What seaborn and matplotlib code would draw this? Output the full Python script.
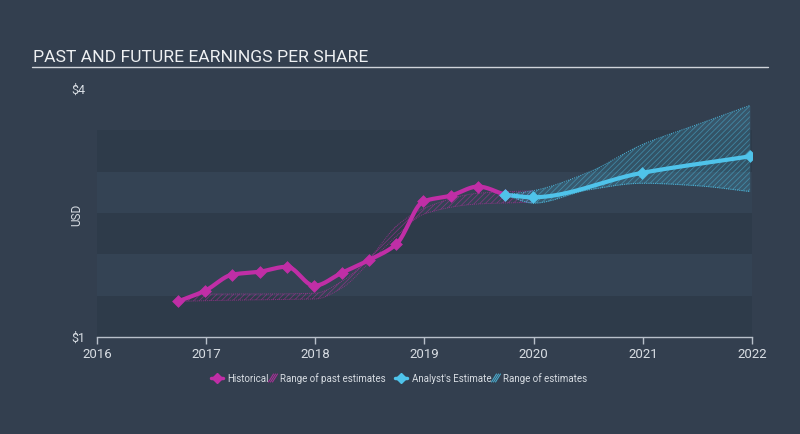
import numpy as np
import pandas as pd
import matplotlib
matplotlib.use("Agg")
import matplotlib.pyplot as plt
import seaborn as sns

# ---- data ----
hist_dates = [2016.74, 2016.99, 2017.24, 2017.49, 2017.74, 2017.99, 2018.24,
              2018.49, 2018.74, 2018.99, 2019.24, 2019.49, 2019.74]
hist_eps = [1.43, 1.56, 1.755, 1.79, 1.85, 1.62, 1.775, 1.93, 2.12, 2.64,
            2.71, 2.82, 2.72]

past_range_dates = [2016.74, 2017.0, 2017.5, 2018.0, 2018.25, 2018.5, 2018.75,
                    2019.0, 2019.5, 2020.0]
past_range_low = [1.43, 1.44, 1.45, 1.46, 1.60, 1.91, 2.23, 2.49, 2.61, 2.63]
past_range_high = [1.43, 1.52, 1.52, 1.53, 1.68, 1.96, 2.35, 2.56, 2.74, 2.77]

est_dates = [2019.74, 2019.99, 2020.99, 2021.98]
est_eps = [2.72, 2.69, 2.985, 3.185]

est_range_dates = [2019.74, 2020.0, 2020.5, 2021.0, 2021.5, 2021.98]
est_range_low = [2.72, 2.62, 2.78, 2.86, 2.83, 2.76]
est_range_high = [2.72, 2.77, 2.99, 3.33, 3.57, 3.80]

year_ticks = [2016, 2017, 2018, 2019, 2020, 2021, 2022]
y_ticks = [1, 4]
y_tick_labels = ["$1", "$4"]

BG = "#333f4f"
DARK = "#2e3b4a"
LIGHT = "#344354"
MAG = "#c02ea6"
CYAN = "#4fc3ea"
TXT = "#d8dde3"


def pchip(x, y, n=300):
    x = np.asarray(x, float)
    y = np.asarray(y, float)
    h = np.diff(x)
    d = np.diff(y) / h
    m = np.zeros_like(y)
    for k in range(1, len(x) - 1):
        if d[k - 1] * d[k] > 0:
            w1 = 2 * h[k] + h[k - 1]
            w2 = h[k] + 2 * h[k - 1]
            m[k] = (w1 + w2) / (w1 / d[k - 1] + w2 / d[k])
    m[0] = d[0]
    m[-1] = d[-1]
    xs = np.linspace(x[0], x[-1], n)
    idx = np.clip(np.searchsorted(x, xs) - 1, 0, len(x) - 2)
    t = (xs - x[idx]) / h[idx]
    h00 = 2 * t**3 - 3 * t**2 + 1
    h10 = t**3 - 2 * t**2 + t
    h01 = -2 * t**3 + 3 * t**2
    h11 = t**3 - t**2
    ys = h00 * y[idx] + h10 * h[idx] * m[idx] + h01 * y[idx + 1] + h11 * h[idx] * m[idx + 1]
    return xs, ys


sns.set_theme(style="dark")
plt.rcParams["font.family"] = ["Roboto", "DejaVu Sans"]
plt.rcParams["hatch.linewidth"] = 0.6

fig = plt.figure(figsize=(8, 4.35), dpi=100, facecolor=BG)
ax = fig.add_axes([97 / 800, 1 - 338 / 435, 655 / 800, 248 / 435])
ax.set_facecolor(BG)
ax.set_xlim(2016, 2022)
ax.set_ylim(1, 4)

# background bands
for lo, hi, c in [(1, 1.5, DARK), (1.5, 2, LIGHT), (2, 2.5, DARK),
                  (2.5, 3, LIGHT), (3, 3.5, DARK)]:
    ax.axhspan(lo, hi, color=c, lw=0, zorder=0)

# past estimate range
px, plo = pchip(past_range_dates, past_range_low)
_, phi = pchip(past_range_dates, past_range_high)
ax.fill_between(px, plo, phi, facecolor="none", edgecolor=MAG, hatch="//////",
                lw=0, alpha=0.5, zorder=1)
ax.plot(px, plo, color=MAG, lw=0.7, ls=(0, (1, 1)), alpha=0.6, zorder=1)
ax.plot(px, phi, color=MAG, lw=0.7, ls=(0, (1, 1)), alpha=0.6, zorder=1)

# future estimate range
ex, elo = pchip(est_range_dates, est_range_low)
_, ehi = pchip(est_range_dates, est_range_high)
ax.fill_between(ex, elo, ehi, facecolor=CYAN, alpha=0.18, lw=0, zorder=1)
ax.fill_between(ex, elo, ehi, facecolor="none", edgecolor=CYAN, hatch="//////",
                lw=0, alpha=0.45, zorder=1)
ax.plot(ex, elo, color=CYAN, lw=0.8, ls=(0, (1, 1)), alpha=0.8, zorder=1)
ax.plot(ex, ehi, color=CYAN, lw=0.8, ls=(0, (1, 1)), alpha=0.8, zorder=1)

# smoothed lines
hx, hy = pchip(hist_dates, hist_eps, 600)
fx, fy = pchip(est_dates, est_eps, 400)
sns.lineplot(x=hx, y=hy, ax=ax, color=MAG, lw=3, zorder=3, sort=False)
sns.lineplot(x=fx, y=fy, ax=ax, color=CYAN, lw=3, zorder=3, sort=False)
sns.scatterplot(x=hist_dates, y=hist_eps, ax=ax, color=MAG, marker="D", s=36,
                edgecolor=MAG, zorder=4)
sns.scatterplot(x=est_dates, y=est_eps, ax=ax, color=CYAN, marker="D", s=36,
                edgecolor=CYAN, zorder=4)

# axes styling
for s in ["top", "right", "left"]:
    ax.spines[s].set_visible(False)
ax.spines["bottom"].set_color("#b8c0ca")
ax.spines["bottom"].set_linewidth(1)
ax.set_xticks(year_ticks)
ax.set_xticklabels([str(y) for y in year_ticks])
ax.tick_params(axis="x", colors="#b8c0ca", length=5, width=1, labelcolor=TXT,
               labelsize=9.5, pad=2, direction="out", bottom=True)
ax.set_yticks([])
ax.grid(False)
ax.set_xlabel("")
ax.set_ylabel("")

# y labels
for v, lab in zip(y_ticks, y_tick_labels):
    ax.text(-0.018, v, lab, transform=ax.get_yaxis_transform(), ha="right",
            va="center", color=TXT, fontsize=9)
fig.text(77 / 800, 1 - 215 / 435, "USD", rotation=90, ha="center",
         va="center", color=TXT, fontsize=8.5)

# title
fig.text(33 / 800, 1 - 57 / 435, "PAST AND FUTURE EARNINGS PER SHARE",
         ha="left", va="center", color="#eef0f2", fontsize=12.6)
fig.add_artist(plt.Line2D([32 / 800, 768 / 800], [1 - 68 / 435, 1 - 68 / 435],
                          color="#d0d4da", lw=1))

# legend
ly = 1 - 379 / 435
fs = 7


def diamond(x, color):
    fig.add_artist(plt.Line2D([x / 800 - 0.008, x / 800 + 0.008], [ly, ly],
                              color=color, lw=2.5))
    fig.add_artist(plt.Line2D([x / 800], [ly], marker="D", color=color,
                              markersize=5, lw=0))


def hatch_icon(x, color):
    for dx in (-2, 0, 2):
        fig.add_artist(plt.Line2D([(x + dx - 2.5) / 800, (x + dx + 2.5) / 800],
                                  [ly - 4 / 435, ly + 4 / 435], color=color,
                                  lw=0.8, alpha=0.8))


diamond(217, MAG)
fig.text(227 / 800, ly, "Historical", color=TXT, fontsize=fs, va="center")
hatch_icon(273, MAG)
fig.text(280 / 800, ly, "Range of past estimates", color=TXT, fontsize=fs,
         va="center")
diamond(401, CYAN)
fig.text(412 / 800, ly, "Analyst's Estimate", color=TXT, fontsize=fs,
         va="center")
hatch_icon(496, CYAN)
fig.text(503 / 800, ly, "Range of estimates", color=TXT, fontsize=fs,
         va="center")

fig.savefig("out.png", dpi=100, facecolor=BG)
